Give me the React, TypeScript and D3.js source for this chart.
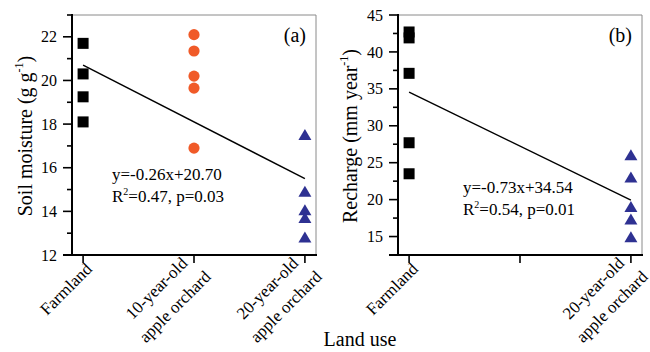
import React, { useEffect, useRef } from "react";
import * as d3 from "d3";

// ---- data ----
const years = [0, 10, 20];
const landUseLabelsA: string[][] = [["Farmland"], ["10-year-old", "apple orchard"], ["20-year-old", "apple orchard"]];
const landUseLabelsB: string[][] = [["Farmland"], [], ["20-year-old", "apple orchard"]];

const moistureFarmland = [21.7, 20.3, 19.25, 18.1];
const moisture10yr = [22.1, 21.35, 20.2, 19.65, 16.9];
const moisture20yr = [17.5, 14.9, 14.05, 13.7, 12.8];

const rechargeFarmland = [42.7, 41.9, 37.1, 27.7, 23.5];
const recharge20yr = [26.0, 23.0, 19.0, 17.3, 14.9];

const fitMoisture = [-0.26, 20.7];
const fitRecharge = [-0.73, 34.54];

const moistureMajorTicks = [12, 14, 16, 18, 20, 22];
const moistureMinorTicks = [13, 15, 17, 19, 21, 23];
const rechargeMajorTicks = [15, 20, 25, 30, 35, 40, 45];
const rechargeMinorTicks = [17.5, 22.5, 27.5, 32.5, 37.5, 42.5];

const FONT = "'Liberation Serif', 'Times New Roman', serif";
const ORANGE = "#F05A28";
const BLUE = "#2E3192";

type Panel = {
  left: number;
  right: number;
  yDomain: [number, number];
  major: number[];
  minor: number[];
  labels: string[][];
  xTicks: number[];
  series: { values: number[]; year: number; shape: string; color: string }[];
  fit: number[];
  eqLines: [string, string];
  eqX: number;
  eqY: number;
  tag: string;
  title: string;
  titleX: number;
};

export default function App() {
  const ref = useRef<SVGSVGElement>(null);

  useEffect(() => {
    const svg = d3.select(ref.current);
    svg.selectAll("*").remove();
    const top = 15,
      bottom = 255;

    const panels: Panel[] = [
      {
        left: 72,
        right: 316,
        yDomain: [12, 23],
        major: moistureMajorTicks,
        minor: moistureMinorTicks,
        labels: landUseLabelsA,
        xTicks: years,
        series: [
          { values: moistureFarmland, year: years[0], shape: "square", color: "#000" },
          { values: moisture10yr, year: years[1], shape: "circle", color: ORANGE },
          { values: moisture20yr, year: years[2], shape: "triangle", color: BLUE },
        ],
        fit: fitMoisture,
        eqLines: ["y=-0.26x+20.70", "0.47, p=0.03"],
        eqX: 112,
        eqY: 180,
        tag: "(a)",
        title: "Soil moisture (g g",
        titleX: 32,
      },
      {
        left: 398,
        right: 642,
        yDomain: [12.5, 45],
        major: rechargeMajorTicks,
        minor: rechargeMinorTicks,
        labels: landUseLabelsB,
        xTicks: years,
        series: [
          { values: rechargeFarmland, year: years[0], shape: "square", color: "#000" },
          { values: recharge20yr, year: years[2], shape: "triangle", color: BLUE },
        ],
        fit: fitRecharge,
        eqLines: ["y=-0.73x+34.54", "0.54, p=0.01"],
        eqX: 463,
        eqY: 193,
        tag: "(b)",
        title: "Recharge (mm year",
        titleX: 357,
      },
    ];

    panels.forEach((p) => {
      const x = d3.scaleLinear().domain([-1, 21]).range([p.left, p.right]);
      const y = d3.scaleLinear().domain(p.yDomain).range([bottom, top]);
      const g = svg.append("g");

      // frame top/right
      g.append("line").attr("x1", p.left).attr("x2", p.right).attr("y1", top).attr("y2", top)
        .attr("stroke", "#8a8a8a").attr("stroke-width", 1);
      g.append("line").attr("x1", p.right).attr("x2", p.right).attr("y1", top).attr("y2", bottom)
        .attr("stroke", "#8a8a8a").attr("stroke-width", 1);

      // y ticks
      p.major.forEach((v) => {
        g.append("line").attr("x1", p.left - 9).attr("x2", p.left).attr("y1", y(v)).attr("y2", y(v))
          .attr("stroke", "#000").attr("stroke-width", 1.6);
        g.append("text").attr("x", p.left - 15).attr("y", y(v)).attr("dy", "0.35em")
          .attr("text-anchor", "end").attr("font-size", 16).attr("font-family", FONT).text(String(v));
      });
      p.minor.forEach((v) => {
        g.append("line").attr("x1", p.left - 5).attr("x2", p.left).attr("y1", y(v)).attr("y2", y(v))
          .attr("stroke", "#000").attr("stroke-width", 1.6);
      });

      // x ticks
      p.xTicks.forEach((v) => {
        g.append("line").attr("x1", x(v)).attr("x2", x(v)).attr("y1", bottom).attr("y2", bottom + 8)
          .attr("stroke", "#000").attr("stroke-width", 1.6);
      });

      // axes
      g.append("line").attr("x1", p.left).attr("x2", p.left).attr("y1", top - 1).attr("y2", bottom + 1)
        .attr("stroke", "#000").attr("stroke-width", 2);
      g.append("line").attr("x1", p.left - 9).attr("x2", p.right + 1).attr("y1", bottom).attr("y2", bottom)
        .attr("stroke", "#000").attr("stroke-width", 2);

      // x labels
      const lh = 26;
      p.labels.forEach((lines, i) => {
        if (!lines.length) return;
        const px = x(p.xTicks[i]) + 10;
        const py = bottom + 15;
        const lg = g.append("g").attr("transform", `translate(${px},${py}) rotate(-45)`);
        const n = lines.length;
        const texts = lines.map((s, j) =>
          lg.append("text").attr("font-size", 17).attr("font-family", FONT)
            .attr("text-anchor", "middle").attr("y", 11 * (n - 1) - (n - 1 - j) * lh).text(s)
        );
        const W = Math.max(...texts.map((t) => (t.node() as SVGTextElement).getComputedTextLength()));
        texts.forEach((t) => t.attr("x", -W / 2));
      });

      // fit line
      const line = d3.line<number>().x((d) => x(d)).y((d) => y(p.fit[0] * d + p.fit[1]));
      g.append("path").attr("d", line([years[0], years[2]]) as string)
        .attr("fill", "none").attr("stroke", "#000").attr("stroke-width", 1.4);

      // points
      p.series.forEach((s) => {
        s.values.forEach((v) => {
          const cx = x(s.year), cy = y(v);
          if (s.shape === "square") {
            g.append("rect").attr("x", cx - 5.5).attr("y", cy - 5.5).attr("width", 11).attr("height", 11)
              .attr("fill", s.color);
          } else if (s.shape === "circle") {
            g.append("circle").attr("cx", cx).attr("cy", cy).attr("r", 5.6).attr("fill", s.color);
          } else {
            g.append("path")
              .attr("d", `M${cx},${cy - 6}L${cx + 6.5},${cy + 5}L${cx - 6.5},${cy + 5}Z`)
              .attr("fill", s.color);
          }
        });
      });

      // equation
      g.append("text").attr("x", p.eqX).attr("y", p.eqY).attr("font-size", 17).attr("font-family", FONT)
        .text(p.eqLines[0]);
      const t2 = g.append("text").attr("x", p.eqX).attr("y", p.eqY + 22).attr("font-size", 17)
        .attr("font-family", FONT);
      t2.append("tspan").text("R");
      t2.append("tspan").attr("font-size", 10).attr("dy", -7).text("2");
      t2.append("tspan").attr("dy", 7).text("=" + p.eqLines[1]);

      // tag
      g.append("text").attr("x", p.right - 10).attr("y", 42).attr("text-anchor", "end")
        .attr("font-size", 20).attr("font-family", FONT).text(p.tag);

      // y title
      const tt = g.append("text").attr("transform", `translate(${p.titleX},136) rotate(-90)`)
        .attr("text-anchor", "middle").attr("font-size", 20).attr("font-family", FONT);
      tt.append("tspan").text(p.title);
      tt.append("tspan").attr("font-size", 12).attr("dy", -9).text("-1");
      tt.append("tspan").attr("dy", 9).text(")");
    });

    svg.append("text").attr("x", 360).attr("y", 346).attr("text-anchor", "middle")
      .attr("font-size", 20).attr("font-family", FONT).text("Land use");
  }, []);

  return (
    <svg
      ref={ref}
      width={650}
      height={352}
      style={{ position: "absolute", left: 0, top: 0, background: "#fff", display: "block" }}
    />
  );
}
